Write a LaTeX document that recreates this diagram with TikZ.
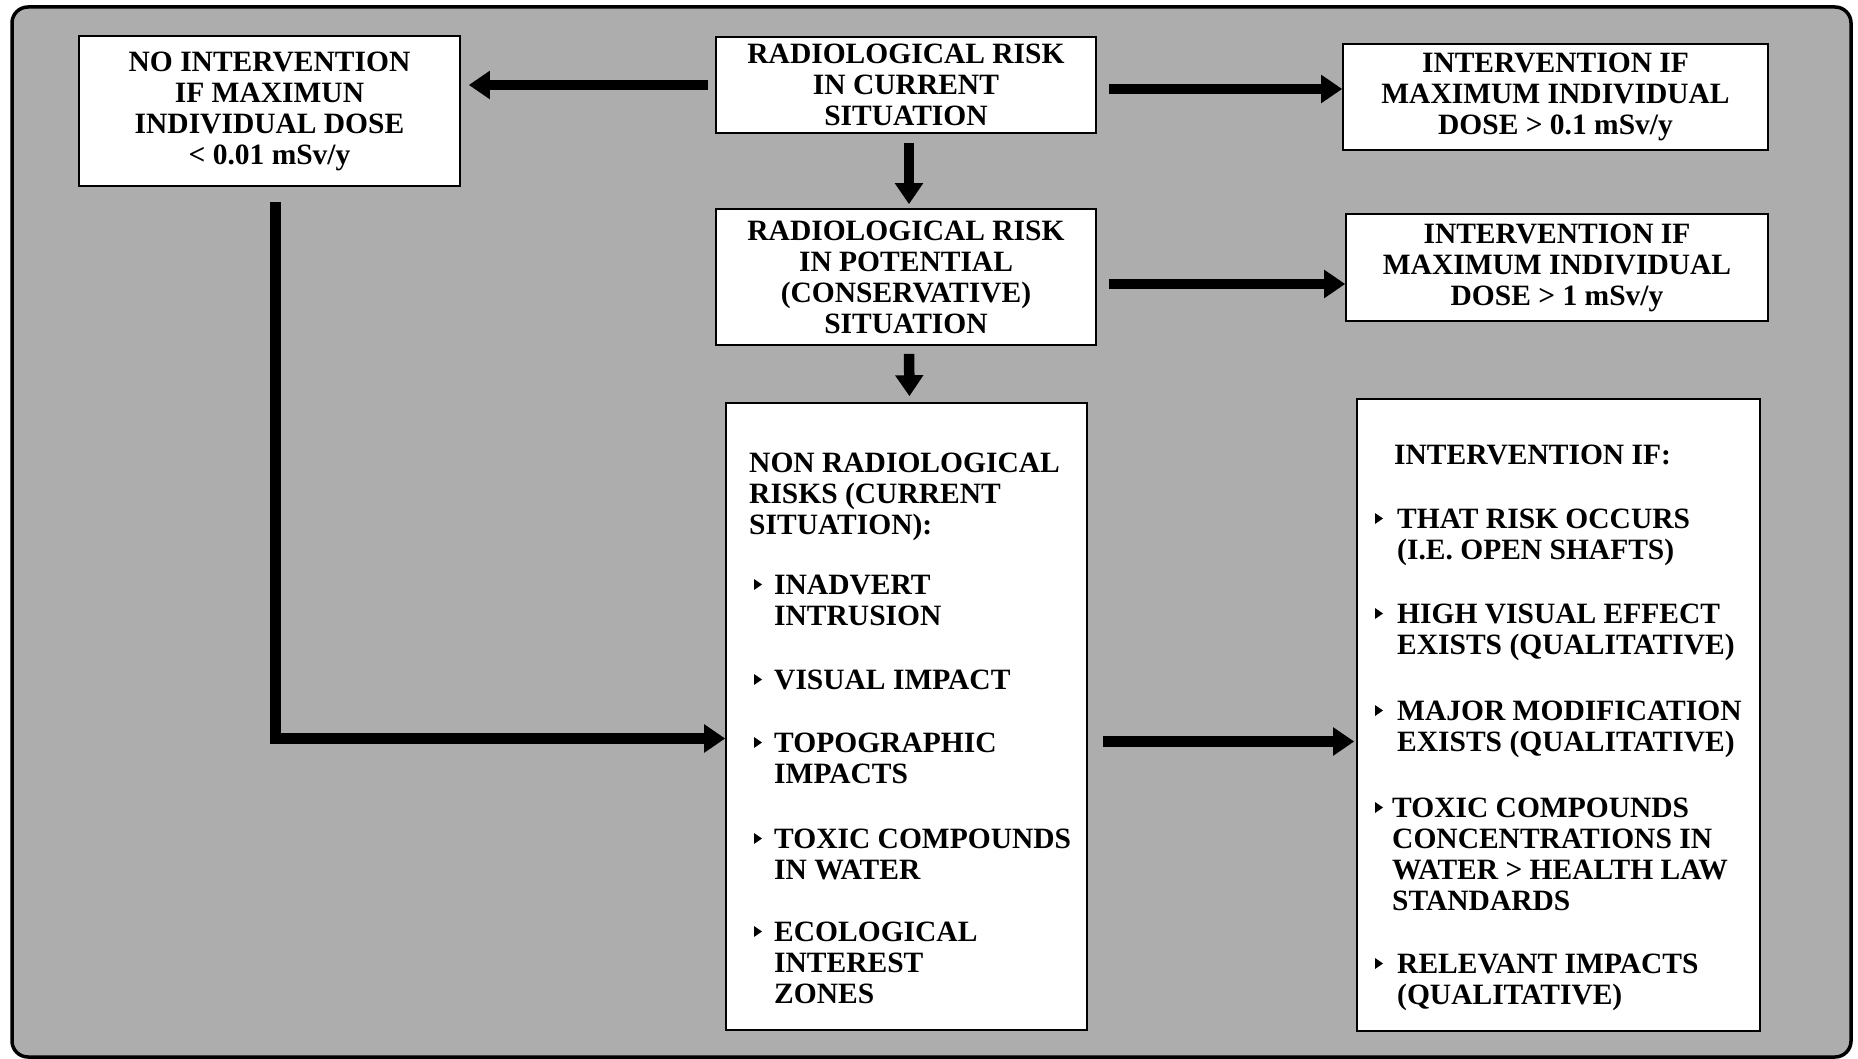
\documentclass[tikz,border=0pt]{standalone}
\usepackage{fontspec}
\setmainfont{Liberation Serif}
\usetikzlibrary{arrows.meta}
\definecolor{bg}{gray}{0.68}
\newcommand\txtfont{\fontsize{29.5}{31}\selectfont\bfseries}
\newcommand\bulat[2]{\fill (#1,#2-4) -- (#1,#2-15) -- (#1+8,#2-9.5) -- cycle;}
\begin{document}
\begin{tikzpicture}[x=1pt,y=-1pt,
  box/.style={draw=black, line width=1.6pt, fill=white, inner sep=0pt, align=center, font=\txtfont},
  txt/.style={inner sep=0pt, align=left, anchor=base west, font=\txtfont},
  arr/.style={line width=10.5pt, -{Triangle[width=27pt,length=21pt]}},
]
\useasboundingbox (0,0) rectangle (1858,1059);
\draw[line width=3.5pt, fill=bg, rounded corners=16pt] (12,7) rectangle (1851,1057);

% boxes
\node[box, minimum width=381pt, minimum height=150pt] (noint) at (269.5,111)
  {NO INTERVENTION\\IF MAXIMUN\\INDIVIDUAL DOSE\\< 0.01 mSv/y};
\node[box, minimum width=380pt, minimum height=96pt] (cur) at (906,85)
  {RADIOLOGICAL RISK\\IN CURRENT\\SITUATION};
\node[box, minimum width=425pt, minimum height=106pt] (i1) at (1555.5,97)
  {INTERVENTION IF\\MAXIMUM INDIVIDUAL\\DOSE > 0.1 mSv/y};
\node[box, minimum width=380pt, minimum height=136pt] (pot) at (906,277)
  {RADIOLOGICAL RISK\\IN POTENTIAL\\(CONSERVATIVE)\\SITUATION};
\node[box, minimum width=422pt, minimum height=107pt] (i2) at (1557,267.5)
  {INTERVENTION IF\\MAXIMUM INDIVIDUAL\\DOSE > 1 mSv/y};
\node[box, minimum width=361pt, minimum height=627pt] (nonrad) at (906.5,716.5) {};
\node[box, minimum width=403pt, minimum height=632pt] (intif) at (1558.5,715) {};

% non radiological risks text (anchor = baseline of last line)
\node[txt] (nrh) at (749,534) {NON RADIOLOGICAL\\RISKS (CURRENT\\SITUATION):};
\bulat{754}{594}
\node[txt] (nr1) at (774,625) {INADVERT\\INTRUSION};
\bulat{754}{689}
\node[txt] (nr2) at (774,689) {VISUAL IMPACT};
\bulat{754}{752}
\node[txt] (nr3) at (774,783) {TOPOGRAPHIC\\IMPACTS};
\bulat{754}{848}
\node[txt] (nr4) at (774,879) {TOXIC COMPOUNDS\\IN WATER};
\bulat{754}{941}
\node[txt] (nr5) at (774,1003) {ECOLOGICAL\\INTEREST\\ZONES};

% intervention if text
\node[txt] (ih) at (1394,464) {INTERVENTION IF:};
\bulat{1375}{528}
\node[txt] (ii1) at (1397,559) {THAT RISK OCCURS\\(I.E. OPEN SHAFTS)};
\bulat{1375}{623}
\node[txt] (ii2) at (1397,654) {HIGH VISUAL EFFECT\\EXISTS (QUALITATIVE)};
\bulat{1375}{720}
\node[txt] (ii3) at (1397,751) {MAJOR MODIFICATION\\EXISTS (QUALITATIVE)};
\bulat{1375}{817}
\node[txt] (ii4) at (1392,910) {TOXIC COMPOUNDS\\CONCENTRATIONS IN\\WATER > HEALTH LAW\\STANDARDS};
\bulat{1375}{973}
\node[txt] (ii5) at (1397,1004) {RELEVANT IMPACTS\\(QUALITATIVE)};

% connectors
\draw[arr, shorten <=7pt, shorten >=8pt] (cur.west) -- (cur.west -| noint.east);
\coordinate (a) at ([yshift=-4pt]cur.east);
\draw[arr, shorten <=12pt] (a) -- (a -| i1.west);
\draw[arr, shorten <=9pt, shorten >=4pt] ([xshift=3pt]cur.south) -- ([xshift=3pt]pot.north);
\coordinate (b) at ([yshift=-7pt]pot.east);
\draw[arr, shorten <=12pt] (b) -- (b -| i2.west);
\draw[arr, shorten <=8pt, shorten >=6pt] ([xshift=3pt]pot.south) -- ([xshift=3pt]nonrad.north);
\coordinate (c) at ([yshift=-22pt]nonrad.west);
\draw[arr, shorten <=15pt] ([xshift=6pt]noint.south) |- (c);
\coordinate (d) at ([yshift=-25pt]nonrad.east);
\draw[arr, shorten <=15pt, shorten >=2pt] (d) -- (d -| intif.west);
\end{tikzpicture}
\end{document}
